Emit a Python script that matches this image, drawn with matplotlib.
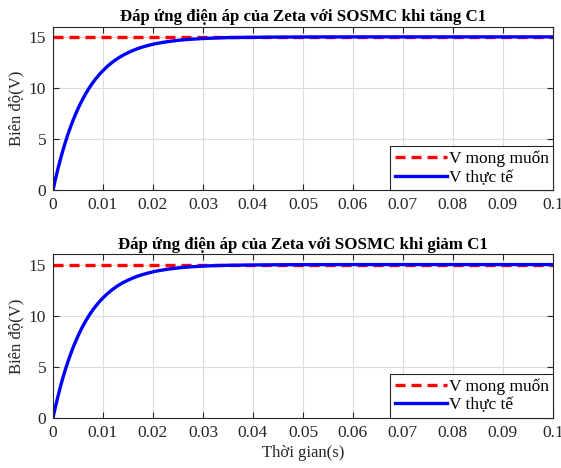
import matplotlib
matplotlib.use('Agg')
import matplotlib.pyplot as plt

plt.rcParams['font.family'] = ['Liberation Serif', 'DejaVu Serif']

# du lieu doc tu hinh
t = [0.0, 0.0005, 0.001, 0.0015, 0.002, 0.0025, 0.003, 0.0035, 0.004, 0.0045,
     0.005, 0.0055, 0.006, 0.0065, 0.007, 0.0075, 0.008, 0.0085, 0.009, 0.0095,
     0.010, 0.011, 0.012, 0.013, 0.014, 0.015, 0.016, 0.017, 0.018, 0.019,
     0.020, 0.021, 0.022, 0.023, 0.024, 0.025, 0.026, 0.027, 0.028, 0.029,
     0.030, 0.032, 0.035, 0.040, 0.045, 0.050, 0.060, 0.070, 0.080, 0.090, 0.100]
v_tang = [0.0, 1.09, 2.11, 3.05, 3.92, 4.73, 5.48, 6.17, 6.82, 7.41,
          7.97, 8.48, 8.96, 9.40, 9.81, 10.19, 10.54, 10.86, 11.16, 11.44,
          11.70, 12.17, 12.57, 12.91, 13.20, 13.45, 13.67, 13.86, 14.02, 14.16,
          14.28, 14.38, 14.46, 14.54, 14.60, 14.66, 14.71, 14.75, 14.78, 14.81,
          14.84, 14.88, 14.93, 14.96, 14.98, 14.99, 15.0, 15.0, 15.0, 15.0, 15.0]
v_giam = [0.0, 1.10, 2.12, 3.07, 3.95, 4.76, 5.51, 6.20, 6.85, 7.45,
          8.00, 8.52, 9.00, 9.44, 9.85, 10.23, 10.58, 10.90, 11.20, 11.48,
          11.74, 12.20, 12.60, 12.94, 13.23, 13.47, 13.69, 13.88, 14.03, 14.17,
          14.29, 14.39, 14.47, 14.55, 14.61, 14.67, 14.72, 14.76, 14.79, 14.82,
          14.85, 14.89, 14.93, 14.96, 14.98, 14.99, 15.0, 15.0, 15.0, 15.0, 15.0]
v_ref = 15
titles = [u'Đáp ứng điện áp của Zeta với SOSMC khi tăng C1',
          u'Đáp ứng điện áp của Zeta với SOSMC khi giảm C1']
xticks = [0, 0.01, 0.02, 0.03, 0.04, 0.05, 0.06, 0.07, 0.08, 0.09, 0.1]
xtick_labels = ['0', '0.01', '0.02', '0.03', '0.04', '0.05', '0.06', '0.07', '0.08', '0.09', '0.1']
yticks = [0, 5, 10, 15]

fig = plt.figure(figsize=(5.61, 4.68), dpi=100)
ax1 = fig.add_axes([0.0945, 0.594, 0.891, 0.349])
ax2 = fig.add_axes([0.0945, 0.1075, 0.891, 0.349])

for ax, v, title in [(ax1, v_tang, titles[0]), (ax2, v_giam, titles[1])]:
    ax.plot([0, 0.1], [v_ref, v_ref], color='#ff0000', linestyle=(0, (3, 1.8)),
            linewidth=2.4, label=u'V mong muốn')
    ax.plot(t, v, color='#0000ff', linewidth=2.4, label=u'V thực tế')
    ax.set_xlim(0, 0.1)
    ax.set_ylim(0, 16)
    ax.set_xticks(xticks)
    ax.set_xticklabels(xtick_labels)
    ax.set_yticks(yticks)
    ax.grid(True, color='#dcdcdc', linewidth=0.8)
    ax.set_axisbelow(True)
    ax.tick_params(direction='in', top=True, right=True, labelsize=12.5,
                   colors='#262626', length=4, pad=5)
    for s in ax.spines.values():
        s.set_color('#262626')
        s.set_linewidth(0.8)
    ax.set_title(title, fontsize=12.2, fontweight='bold', pad=4)
    ax.set_ylabel(u'Biên độ(V)', fontsize=12, color='#262626', labelpad=3)
    leg = ax.legend(loc='lower right', fontsize=12.5, borderaxespad=0,
                    fancybox=False, framealpha=1, edgecolor='#262626',
                    handlelength=3.0, handletextpad=0.1, borderpad=0.25,
                    labelspacing=0.15)
    leg.get_frame().set_linewidth(0.8)

ax2.set_xlabel(u'Thời gian(s)', fontsize=12, color='#262626', labelpad=3)

fig.savefig('out.png', dpi=100)
